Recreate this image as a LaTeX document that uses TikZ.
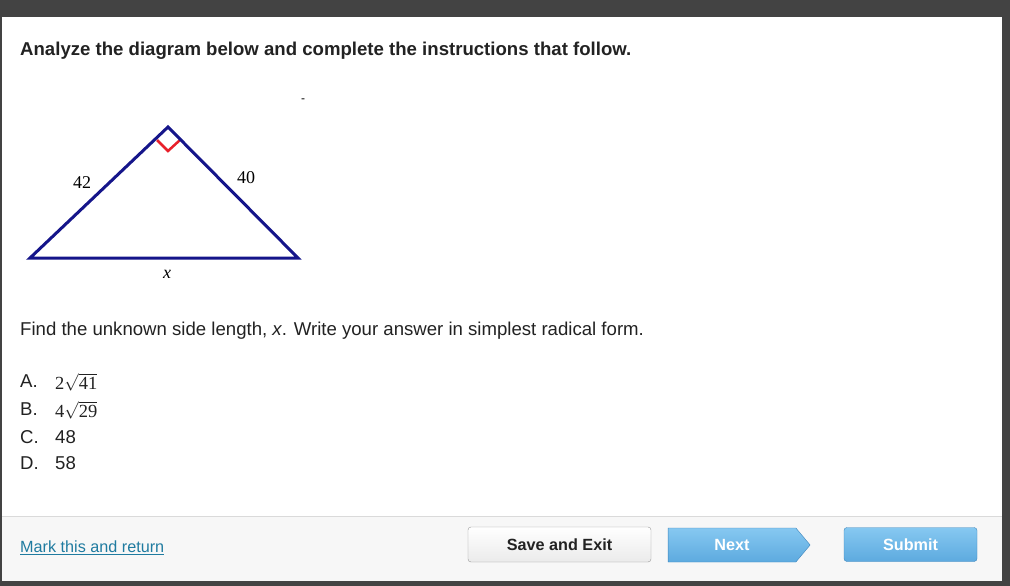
\documentclass[tikz,border=0pt]{standalone}
\usepackage{fontspec}
\usepackage{amsmath}
\setmainfont{Liberation Sans}
\newfontfamily\timesfont{Liberation Serif}
\usetikzlibrary{shapes.symbols}

\definecolor{frame}{HTML}{434343}
\definecolor{footgray}{HTML}{F7F7F7}
\definecolor{footline}{HTML}{DADADA}
\definecolor{navy}{HTML}{15158A}
\definecolor{rightred}{HTML}{E8202A}
\definecolor{linkblue}{HTML}{1F7BA0}
\definecolor{btntop}{HTML}{86C8F1}
\definecolor{btnbot}{HTML}{5DAADF}
\definecolor{btnline}{HTML}{3F86BC}
\definecolor{txt}{HTML}{222222}

\newcommand{\radval}[2]{{\timesfont #1}$\sqrt{\text{\timesfont #2}}$}

\begin{document}
\begin{tikzpicture} [
    x=1pt, y=-1pt,
    qtext/.style    = { anchor=west, inner sep=0pt, text=txt,
                        font=\fontsize{18.6}{21}\selectfont },
    side/.style     = { draw=navy, line width=3pt, line join=miter },
    sidelabel/.style= { inner sep=0pt, font=\timesfont\fontsize{18}{20}\selectfont },
    option/.style   = { anchor=west, inner sep=0pt, text=txt,
                        font=\fontsize{18.6}{21}\selectfont },
    bluebtn/.style  = { draw=btnline, top color=btntop, bottom color=btnbot,
                        text=white, font=\bfseries\fontsize{16.2}{18}\selectfont,
                        minimum height=34pt, inner sep=0pt },
  ]
  \useasboundingbox (0,0) rectangle (1010,586);

  % page frame and footer
  \fill[frame] (0,0) rectangle (1010,586);
  \fill[white] (2,17) rectangle (1002,581);
  \fill[footgray] (2,516) rectangle (1002,581);
  \draw[footline] (2,516) -- (1002,516);

  % question text
  \node[qtext, font=\bfseries\fontsize{18.6}{21}\selectfont] (title) at (20,50.5)
    {Analyze the diagram below and complete the instructions that follow.};
  \node[inner sep=0pt, font=\fontsize{12}{14}\selectfont] (dash) at (303,101) {-};

  % triangle
  \coordinate (left)  at (30,258);
  \coordinate (right) at (298,258);
  \coordinate (apex)  at (168,127);
  \coordinate (mkl)   at (157,140);
  \coordinate (mkb)   at (168,151);
  \coordinate (mkr)   at (180,140);
  \draw[rightred, line width=2.5pt] (mkl) -- (mkb) -- (mkr);
  \path[side] (left) -- (apex) -- (right) -- cycle;
  \node[sidelabel] (a42) at (82,183) {42};
  \node[sidelabel] (a40) at (246,178) {40};
  \node[sidelabel, font=\timesfont\itshape\fontsize{18}{20}\selectfont] (ax) at (167,274) {x};

  % prompt and choices
  \node[qtext] (prompt) at (20,330.5)
    {Find the unknown side length, \textit{x}. Write your answer in simplest radical form.};
  \node[option] (optA) at (20,381) {A.};
  \node[option] (optB) at (20,409) {B.};
  \node[option] (optC) at (20,437) {C.};
  \node[option] (optD) at (20,463) {D.};
  \node[option, font=\fontsize{18.5}{20}\selectfont] (valA) at (55,382) {\radval{2}{41}};
  \node[option, font=\fontsize{18.5}{20}\selectfont] (valB) at (55,410) {\radval{4}{29}};
  \node[option] (valC) at (55,437) {48};
  \node[option] (valD) at (55,463) {58};

  % footer buttons
  \node[anchor=west, inner sep=0pt, text=linkblue, font=\fontsize{16.2}{18}\selectfont]
    (mark) at (20,548) {\underline{Mark this and return}};
  \node[draw=black!40, rounded corners=3pt, top color=white, bottom color=black!8,
        minimum width=183pt, minimum height=35pt, inner sep=0pt,
        font=\bfseries\fontsize{16.2}{18}\selectfont, text=txt]
    (save) at (559.5,544.5) {Save and Exit};
  \node[bluebtn, signal, signal to=east, signal pointer angle=100,
        minimum width=142pt] (next) at (732,545) {Next};
  \node[bluebtn, rounded corners=3pt, minimum width=133pt] (submit) at (910.5,544.5) {Submit};
\end{tikzpicture}
\end{document}
